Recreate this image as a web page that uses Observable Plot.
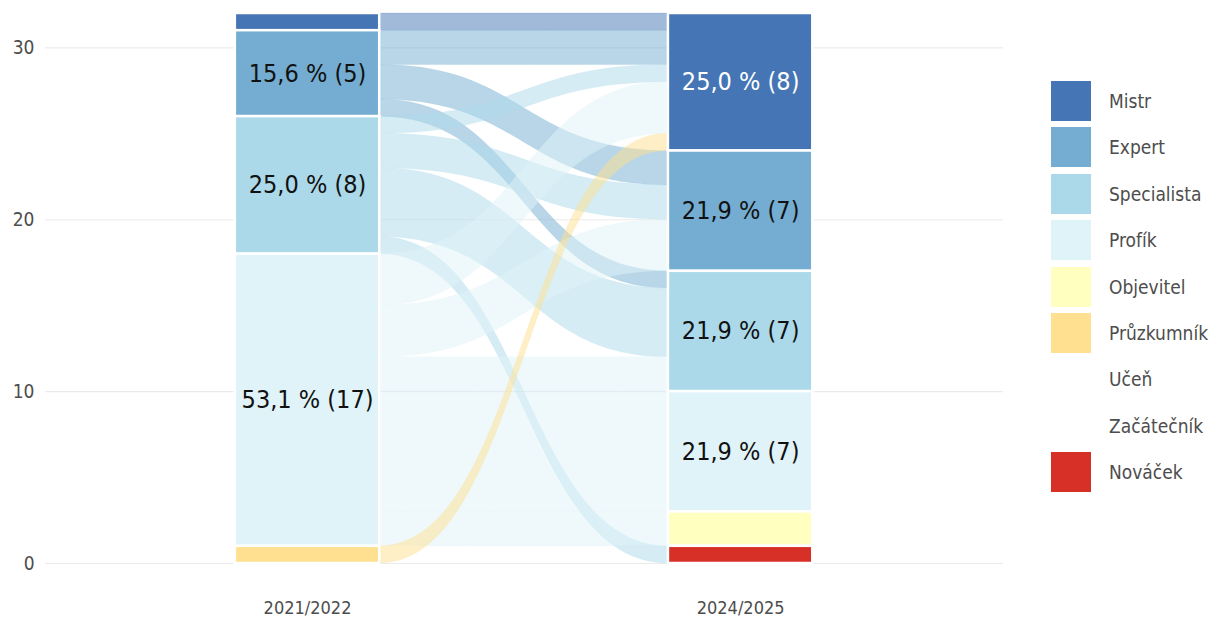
<!DOCTYPE html>
<html>
<head>
<meta charset="utf-8">
<script src="https://cdn.jsdelivr.net/npm/d3@7"></script>
<script src="https://cdn.jsdelivr.net/npm/@observablehq/plot@0.6"></script>
<style>
  body { margin: 0; background: #fff; }
  #wrap { position: relative; width: 1217px; height: 624px; font-family: "Liberation Sans Narrow", "DejaVu Sans Condensed", sans-serif; }
  #chart { position: absolute; left: 0; top: 0; }
  #legend { position: absolute; left: 1051px; top: 81px; }
  .item { display: flex; align-items: center; height: 40px; margin-bottom: 6.4px; }
  .sw { width: 40px; height: 40px; margin-right: 18px; }
  .lab { font-size: 19px; color: #4d4d4d; }
</style>
</head>
<body>
<div id="wrap"><div id="chart"></div><div id="legend"></div></div>
<script>
// Categories (top to bottom) and their colours
const levels = ["Mistr", "Expert", "Specialista", "Profík", "Objevitel", "Průzkumník", "Učeň", "Začátečník", "Nováček"];
const colors = ["#4575b4", "#74add1", "#abd9e9", "#e0f3f8", "#ffffbf", "#fee090", "#fdae61", "#f46d43", "#d73027"];
// School years (x axis)
const years = ["2021/2022", "2024/2025"];
// Transitions between the two years (number of students)
const flowFrom = ["Mistr", "Expert", "Expert", "Expert", "Specialista", "Specialista", "Specialista", "Specialista", "Profík", "Profík", "Profík", "Profík", "Profík", "Průzkumník"];
const flowTo   = ["Mistr", "Mistr", "Expert", "Specialista", "Mistr", "Expert", "Specialista", "Nováček", "Mistr", "Expert", "Specialista", "Profík", "Objevitel", "Mistr"];
const flowN    = [1, 2, 2, 1, 1, 2, 4, 1, 3, 3, 2, 7, 2, 1];

const idx = l => levels.indexOf(l);
const flows = flowFrom.map((f, i) => ({id: i, from: f, to: flowTo[i], n: flowN[i]}));
const total = d3.sum(flowN);
const W = 1 / 3;

// stack flows at the left axis (by source, then target) and right axis (by target, then source)
let cur = total;
[...flows].sort((a, b) => idx(a.from) - idx(b.from) || idx(a.to) - idx(b.to))
  .forEach(f => { f.lTop = cur; f.lBot = cur - f.n; cur -= f.n; });
cur = total;
[...flows].sort((a, b) => idx(a.to) - idx(b.to) || idx(a.from) - idx(b.from))
  .forEach(f => { f.rTop = cur; f.rBot = cur - f.n; cur -= f.n; });

// strata
const strata = [];
[["from", 1], ["to", 2]].forEach(([key, pos]) => {
  let c = total;
  levels.forEach(l => {
    const n = d3.sum(flows.filter(f => f[key] === l), f => f.n);
    if (n > 0) { strata.push({level: l, pos, n, top: c, bot: c - n}); c -= n; }
  });
});

// flow band end points
const flowPts = flows.flatMap(f => [
  {id: f.id, src: f.from, x: 1 + W / 2, top: f.lTop, bot: f.lBot},
  {id: f.id, src: f.from, x: 2 - W / 2, top: f.rTop, bot: f.rBot}
]);

const fmt = s => (s.n / total * 100).toFixed(1).replace(".", ",") + " % (" + s.n + ")";
const labels = strata.filter(s => s.n >= 5);

const chart = Plot.plot({
  width: 1040,
  height: 624,
  marginLeft: 45,
  marginRight: 37,
  marginTop: 13,
  marginBottom: 61,
  style: {fontFamily: '"Liberation Sans Narrow", "DejaVu Sans Condensed", sans-serif', background: "white"},
  x: {domain: [0.395, 2.607], axis: null},
  y: {domain: [0, 32], axis: null},
  color: {domain: levels, range: colors},
  marks: [
    Plot.gridY([0, 10, 20, 30], {stroke: "#ebebeb", strokeOpacity: 1, strokeWidth: 1.2}),
    Plot.axisY([0, 10, 20, 30], {tickSize: 0, tickPadding: 11, fontSize: 19, fill: "#4d4d4d", label: null}),
    Plot.axisX([1, 2], {tickSize: 0, tickPadding: 38, fontSize: 18, fill: "#4d4d4d", tickFormat: d => years[d - 1], label: null}),
    Plot.areaY(flowPts, {x: "x", y1: "bot", y2: "top", z: "id", fill: "src", fillOpacity: 0.5, stroke: "src", strokeOpacity: 0.15, strokeWidth: 1, curve: "bump-x"}),
    Plot.rect(strata, {x1: d => d.pos - W / 2, x2: d => d.pos + W / 2, y1: "bot", y2: "top", fill: "level", stroke: "white", strokeWidth: 2.5}),
    Plot.text(labels, {x: "pos", y: d => (d.top + d.bot) / 2, text: fmt, fontSize: 25, fill: d => d.level === "Mistr" ? "white" : "#111"})
  ]
});
document.getElementById("chart").appendChild(chart);

// legend
const present = new Set(strata.map(s => s.level));
const leg = document.getElementById("legend");
levels.forEach((l, i) => {
  const item = document.createElement("div");
  item.className = "item";
  const sw = document.createElement("div");
  sw.className = "sw";
  sw.style.background = present.has(l) ? colors[i] : "transparent";
  const lab = document.createElement("span");
  lab.className = "lab";
  lab.textContent = l;
  item.appendChild(sw); item.appendChild(lab);
  leg.appendChild(item);
});
</script>
</body>
</html>
